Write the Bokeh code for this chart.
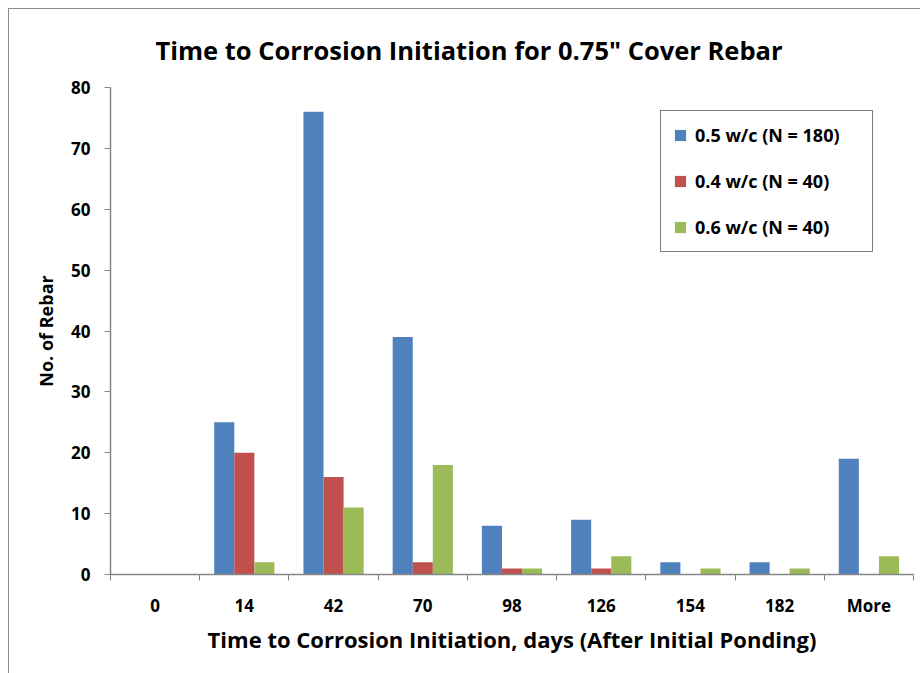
from bokeh.plotting import figure
from bokeh.models import Range1d, FixedTicker, Legend, LegendItem, ColumnDataSource
from bokeh.embed import file_html
from bokeh.resources import INLINE

categories = ["0", "14", "42", "70", "98", "126", "154", "182", "More"]
series_names = ["0.5 w/c (N = 180)", "0.4 w/c (N = 40)", "0.6 w/c (N = 40)"]
w05 = [0, 25, 76, 39, 8, 9, 2, 2, 19]
w04 = [0, 20, 16, 2, 1, 1, 0, 0, 0]
w06 = [0, 2, 11, 18, 1, 3, 1, 1, 3]
colors = ["#4F81BD", "#C0504D", "#9BBB59"]
y_ticks = [0, 10, 20, 30, 40, 50, 60, 70, 80]

FONT = "Open Sans"
n = len(categories)
centers = [i + 0.5 for i in range(n)]

p = figure(width=912, height=665, output_backend="svg", toolbar_location=None,
           x_range=Range1d(0, n), y_range=Range1d(0, 80),
           min_border_left=101, min_border_right=8, min_border_top=60, min_border_bottom=100,
           title='Time to Corrosion Initiation for 0.75" Cover Rebar',
           styles={"margin-left": "8px", "margin-top": "8px",
                   "border-left": "1px solid #8c8c8c", "border-top": "1px solid #8c8c8c"})
p.title.text_font = FONT
p.title.text_font_size = "25.5px"
p.title.text_font_style = "bold"
p.title.text_color = "#000000"
p.title.align = "left"
p.title.offset = 45
p.title.standoff = 42
p.outline_line_color = None
p.xgrid.grid_line_color = None
p.ygrid.grid_line_color = None

bw = 0.225
offsets = [-bw, 0, bw]
renderers = []
for vals, off, col in zip([w05, w04, w06], offsets, colors):
    src = ColumnDataSource(dict(x=[c + off for c in centers], top=vals))
    r = p.vbar(x="x", top="top", width=bw, source=src, fill_color=col, line_color=None)
    renderers.append(r)

legend = Legend(items=[LegendItem(label=nm, renderers=[r]) for nm, r in zip(series_names, renderers)],
                location=(550, 322))
legend.label_text_font = FONT
legend.label_text_font_size = "18px"
legend.label_text_font_style = "bold"
legend.label_text_color = "#000000"
legend.glyph_width = 14
legend.glyph_height = 14
legend.label_height = 22
legend.label_width = 165
legend.spacing = 22
legend.padding = 12
legend.margin = 0
legend.label_standoff = 8
legend.border_line_color = "#000000"
legend.border_line_width = 1
legend.background_fill_alpha = 1
p.add_layout(legend, "center")

xa = p.xaxis[0]
xa.ticker = FixedTicker(ticks=centers, minor_ticks=list(range(n + 1)))
xa.major_label_overrides = {c: lab for c, lab in zip(centers, categories)}
xa.major_tick_out = 0
xa.major_tick_in = 0
xa.minor_tick_out = 6
xa.minor_tick_in = 0
xa.minor_tick_line_color = "#868686"
xa.axis_line_color = "#868686"
xa.axis_line_width = 1.5
xa.major_label_text_font = FONT
xa.major_label_text_font_size = "17px"
xa.major_label_text_font_style = "bold"
xa.major_label_text_color = "#000000"
xa.major_label_standoff = 13
xa.axis_label = "Time to Corrosion Initiation, days (After Initial Ponding)"
xa.axis_label_text_font = FONT
xa.axis_label_text_font_size = "22px"
xa.axis_label_text_font_style = "bold"
xa.axis_label_text_color = "#000000"
xa.axis_label_standoff = 4

ya = p.yaxis[0]
ya.ticker = FixedTicker(ticks=y_ticks, minor_ticks=[])
ya.major_tick_out = 6
ya.major_tick_in = 0
ya.major_tick_line_color = "#868686"
ya.axis_line_color = "#868686"
ya.axis_line_width = 1.5
ya.major_label_text_font = FONT
ya.major_label_text_font_size = "17px"
ya.major_label_text_font_style = "bold"
ya.major_label_text_color = "#000000"
ya.major_label_standoff = 14
ya.axis_label = "No. of Rebar"
ya.axis_label_text_font = FONT
ya.axis_label_text_font_size = "18px"
ya.axis_label_text_font_style = "bold"
ya.axis_label_text_color = "#000000"
ya.axis_label_standoff = 10

open("out.html", "w").write(file_html(p, INLINE))
